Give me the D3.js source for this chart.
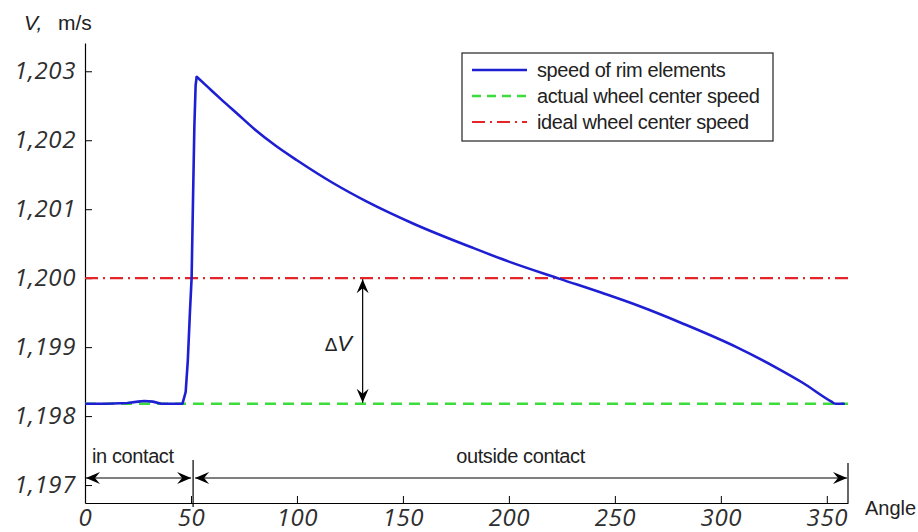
<!DOCTYPE html>
<html lang="en">
  <head>
    <meta charset="UTF-8" />
    <script src="https://d3js.org/d3.v7.min.js"></script>
    <title>Speed of rim elements</title>
    <style type="text/css">
      body {
        margin: 0;
        background: #fff;
      }
      .tick line,
      .domain {
        stroke: #000;
      }
      .tick text {
        fill: #2e2e2e;
        font-size: 24px;
        font-style: italic;
        font-family: 'Open Sans', sans-serif;
        letter-spacing: 0.6px;
      }
      .lbl {
        fill: #222;
        font-family: 'Liberation Sans', Arial, sans-serif;
      }
    </style>
  </head>
  <body>
    <svg width="918" height="532"></svg>
  </body>
  <script type="text/javascript">
    // curve: angle (deg) -> speed (m/s)
    const angles = [
      0, 10, 20, 25, 28, 32, 36, 46, 47.5, 48.5, 49.5, 50.3, 51, 51.6, 52.2, 52.7, 58, 64, 72, 80, 90, 100, 117, 133,
      155, 183, 200, 224, 244.5, 260.2, 282.2, 307.4, 326.3, 338.8, 352.2, 354, 358,
    ];
    const rimSpeed = [
      1.19818, 1.19818, 1.19819, 1.19821, 1.19822, 1.19821, 1.19818, 1.19818, 1.19835, 1.1988, 1.1995, 1.2, 1.2012,
      1.2022, 1.2028, 1.20292, 1.20277, 1.2026, 1.20238, 1.20216, 1.20192, 1.20171, 1.20138, 1.20111, 1.20079,
      1.20044, 1.20024, 1.19999, 1.19978, 1.19961, 1.19934, 1.199, 1.1987, 1.19848, 1.19821, 1.19818, 1.19818,
    ];
    const peakIndex = 15; // sharp corner at the peak, smooth decay after it
    const actualCenter = 1.19818;
    const idealCenter = 1.2;

    const xTicks = [0, 50, 100, 150, 200, 250, 300, 350];
    const yTicks = [1.197, 1.198, 1.199, 1.2, 1.201, 1.202, 1.203];

    const legendLabels = ['speed of rim elements', 'actual wheel center speed', 'ideal wheel center speed'];

    // annotations
    const contactEnd = 51;
    const angleEnd = 360;
    const dvAngle = 131;

    // ---

    const margin = { top: 43, right: 70, bottom: 29, left: 85 };
    const width = 918 - margin.left - margin.right;
    const height = 532 - margin.top - margin.bottom;

    const svg = d3.select('svg');
    const g = svg.append('g').attr('transform', `translate(${margin.left}, ${margin.top})`);

    const xScale = d3.scaleLinear().domain([0, 360]).range([0, width]);
    const yScale = d3.scaleLinear().domain([1.19674, 1.20341]).range([height, 0]);

    const blue = '#1e1ed2';
    const green = '#3ddc3d';
    const red = '#e4262a';

    // arrow head marker
    svg
      .append('defs')
      .append('marker')
      .attr('id', 'head')
      .attr('viewBox', '-15 -8 16 16')
      .attr('refX', 0)
      .attr('refY', 0)
      .attr('markerWidth', 16)
      .attr('markerHeight', 16)
      .attr('markerUnits', 'userSpaceOnUse')
      .attr('orient', 'auto-start-reverse')
      .append('path')
      .attr('d', 'M0,0 L-14,-6 L-9,0 L-14,6 Z')
      .attr('fill', '#000');

    // axes
    g.append('g').call(
      d3
        .axisLeft(yScale)
        .tickValues(yTicks)
        .tickSizeInner(-7)
        .tickSizeOuter(0)
        .tickPadding(9)
        .tickFormat((d) => d.toFixed(3).replace('.', ','))
    );
    g.append('g')
      .attr('transform', `translate(0, ${height})`)
      .call(d3.axisBottom(xScale).tickValues(xTicks).tickSizeInner(-7).tickSizeOuter(0).tickPadding(6));
    g.selectAll('.domain').attr('stroke-width', 1.2);

    // reference lines
    g.append('line')
      .attr('x1', xScale(0))
      .attr('x2', xScale(360))
      .attr('y1', yScale(idealCenter))
      .attr('y2', yScale(idealCenter))
      .attr('stroke', red)
      .attr('stroke-width', 2.2)
      .attr('stroke-dasharray', '13 5 2 5');
    g.append('line')
      .attr('x1', xScale(0))
      .attr('x2', xScale(360))
      .attr('y1', yScale(actualCenter))
      .attr('y2', yScale(actualCenter))
      .attr('stroke', green)
      .attr('stroke-width', 2.5)
      .attr('stroke-dasharray', '11 7');

    // rim curve: rise drawn straight, decay smoothed
    const pts = rimSpeed.map((v, i) => [angles[i], v]);
    const rise = d3
      .line()
      .x((d) => xScale(d[0]))
      .y((d) => yScale(d[1]));
    const decay = d3
      .line()
      .x((d) => xScale(d[0]))
      .y((d) => yScale(d[1]))
      .curve(d3.curveMonotoneX);
    const rimPath = g.append('g').attr('fill', 'none').attr('stroke', blue).attr('stroke-width', 2.6);
    rimPath
      .append('path')
      .attr('d', rise(pts.slice(0, peakIndex + 1)))
      .attr('stroke-linejoin', 'round');
    rimPath
      .append('path')
      .attr('d', decay(pts.slice(peakIndex)))
      .attr('stroke-linecap', 'round');

    // delta V arrow
    g.append('line')
      .attr('x1', xScale(dvAngle))
      .attr('x2', xScale(dvAngle))
      .attr('y1', yScale(idealCenter) + 1)
      .attr('y2', yScale(actualCenter) - 1)
      .attr('stroke', '#000')
      .attr('stroke-width', 1.2)
      .attr('marker-start', 'url(#head)')
      .attr('marker-end', 'url(#head)');
    const dv = g
      .append('text')
      .attr('class', 'lbl')
      .attr('x', xScale(dvAngle) - 38)
      .attr('y', (yScale(idealCenter) + yScale(actualCenter)) / 2 + 10)
      .style('font-size', '22px')
      .attr('fill', '#333');
    dv.append('tspan').style('font-size', '19px').text('\u0394');
    dv.append('tspan').style('font-style', 'italic').text('V');

    // contact zones
    const arrowY = height - 25;
    const zones = g.append('g');
    zones
      .append('line')
      .attr('x1', xScale(contactEnd))
      .attr('x2', xScale(contactEnd))
      .attr('y1', height - 43)
      .attr('y2', height + 4)
      .attr('stroke', '#000')
      .attr('stroke-width', 1.2);
    zones
      .append('line')
      .attr('x1', xScale(angleEnd))
      .attr('x2', xScale(angleEnd))
      .attr('y1', height - 40)
      .attr('y2', height)
      .attr('stroke', '#000')
      .attr('stroke-width', 1.2);
    zones
      .append('line')
      .attr('x1', xScale(0) + 1)
      .attr('x2', xScale(contactEnd) - 2)
      .attr('y1', arrowY)
      .attr('y2', arrowY)
      .attr('stroke', '#000')
      .attr('stroke-width', 1.2)
      .attr('marker-start', 'url(#head)')
      .attr('marker-end', 'url(#head)');
    zones
      .append('line')
      .attr('x1', xScale(contactEnd) + 2)
      .attr('x2', xScale(angleEnd) - 1)
      .attr('y1', arrowY)
      .attr('y2', arrowY)
      .attr('stroke', '#000')
      .attr('stroke-width', 1.2)
      .attr('marker-start', 'url(#head)')
      .attr('marker-end', 'url(#head)');
    zones
      .append('text')
      .attr('class', 'lbl')
      .attr('x', xScale(0) + 7)
      .attr('y', arrowY - 15)
      .style('font-size', '20px')
      .style('letter-spacing', '-0.4px')
      .text('in contact');
    zones
      .append('text')
      .attr('class', 'lbl')
      .attr('x', (xScale(contactEnd) + xScale(angleEnd)) / 2)
      .attr('y', arrowY - 15)
      .attr('text-anchor', 'middle')
      .style('font-size', '20px')
      .style('letter-spacing', '-0.4px')
      .text('outside contact');

    // axis titles
    const yTitle = svg.append('text').attr('class', 'lbl').attr('x', 24).attr('y', 30).style('font-size', '21px');
    yTitle.append('tspan').style('font-style', 'italic').text('V,');
    yTitle.append('tspan').attr('x', 58).text('m/s');
    svg.append('text').attr('class', 'lbl').attr('x', 865).attr('y', 515).style('font-size', '20px').text('Angle');

    // legend
    const legend = svg.append('g').attr('transform', 'translate(462, 53)');
    legend
      .append('rect')
      .attr('width', 311)
      .attr('height', 88)
      .attr('fill', '#fff')
      .attr('stroke', '#333')
      .attr('stroke-width', 1.3);
    const legendStyles = [
      { color: blue, dash: null, w: 2.6 },
      { color: green, dash: '9 6', w: 2.5 },
      { color: red, dash: '13 5 2 5', w: 2.2 },
    ];
    const rows = legend
      .selectAll('.row')
      .data(legendLabels)
      .enter()
      .append('g')
      .attr('class', 'row')
      .attr('transform', (d, i) => `translate(0, ${17 + i * 26})`);
    rows
      .append('line')
      .attr('x1', 10)
      .attr('x2', 65)
      .attr('stroke', (d, i) => legendStyles[i].color)
      .attr('stroke-width', (d, i) => legendStyles[i].w)
      .attr('stroke-dasharray', (d, i) => legendStyles[i].dash);
    rows
      .append('text')
      .attr('class', 'lbl')
      .attr('x', 75)
      .attr('y', 7)
      .style('font-size', '20px')
      .style('letter-spacing', '-0.4px')
      .text((d) => d);
  </script>
</html>
